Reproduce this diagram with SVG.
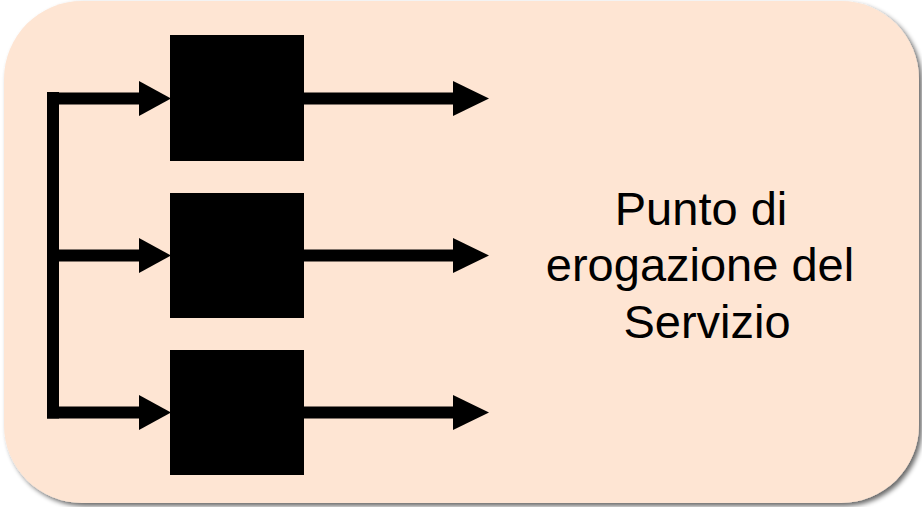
<svg xmlns="http://www.w3.org/2000/svg" width="922" height="507" viewBox="0 0 922 507">
  <style>
    .box { fill: #000000; }
    .line { stroke: #000000; stroke-width: 12; fill: none; }
    .head { fill: #000000; }
    .label { font-family: "Liberation Sans", Arial, sans-serif; font-size: 47px; fill: #000000; text-anchor: middle; }
  </style>
  <defs>
    <filter id="shadow" x="-5%" y="-5%" width="110%" height="110%">
      <feGaussianBlur in="SourceAlpha" stdDeviation="2.5"/>
      <feOffset dx="3" dy="3" result="b"/>
      <feComponentTransfer><feFuncA type="linear" slope="0.6"/></feComponentTransfer>
      <feMerge><feMergeNode/><feMergeNode in="SourceGraphic"/></feMerge>
    </filter>
  </defs>
  <rect width="922" height="507" fill="#ffffff"/>
  <g id="panel">
    <rect x="4" y="1" width="915" height="502" rx="78" ry="78" fill="#FEE5D3" filter="url(#shadow)"/>
  </g>
  <g id="connectors">
    <path class="line" d="M53,92 V418.5"/>
    <path class="line" d="M47,98.5 H141"/>
    <path class="line" d="M53,255.5 H141"/>
    <path class="line" d="M47,412.5 H141"/>
    <polygon class="head" points="139,81 171,98.5 139,116"/>
    <polygon class="head" points="139,238 171,255.5 139,273"/>
    <polygon class="head" points="139,395 171,412.5 139,430"/>
    <path class="line" d="M300,98.5 H455"/>
    <path class="line" d="M300,255.5 H455"/>
    <path class="line" d="M300,412.5 H455"/>
    <polygon class="head" points="453,81 489,98.5 453,116"/>
    <polygon class="head" points="453,238 489,255.5 453,273"/>
    <polygon class="head" points="453,395 489,412.5 453,430"/>
  </g>
  <g id="node1"><rect class="box" x="170" y="35" width="134" height="126"/></g>
  <g id="node2"><rect class="box" x="170" y="193" width="134" height="125"/></g>
  <g id="node3"><rect class="box" x="170" y="350" width="134" height="125"/></g>
  <g id="label">
    <text class="label" x="701" y="225">Punto di</text>
    <text class="label" x="700" y="281">erogazione del</text>
    <text class="label" x="707" y="338">Servizio</text>
  </g>
</svg>
